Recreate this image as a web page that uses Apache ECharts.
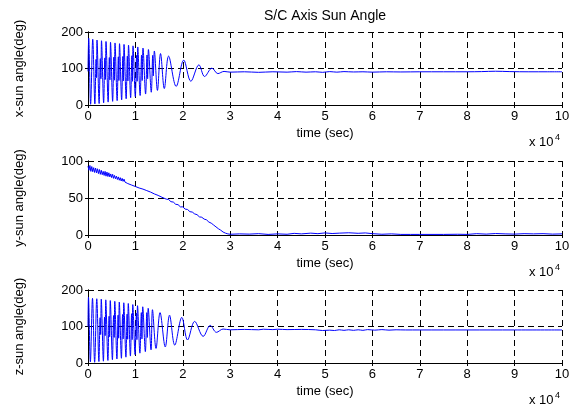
<!DOCTYPE html>
<html>
<head>
<meta charset="utf-8">
<title>S/C Axis Sun Angle</title>
<script src="https://cdn.jsdelivr.net/npm/echarts@6/dist/echarts.min.js"></script>
<style>
html, body { margin: 0; padding: 0; background: #fff; }
#main { width: 576px; height: 405px; }
</style>
</head>
<body>
<div id="main"></div>
<script type="text/javascript">
// time in units of 10^4 sec, angles in deg
var t1 = [0.000, 0.015, 0.055, 0.100, 0.145, 0.170, 0.180, 0.190, 0.235, 0.260, 0.272, 0.285,
          0.330, 0.355, 0.367, 0.380, 0.425, 0.450, 0.462, 0.475, 0.520, 0.545, 0.557, 0.570,
          0.615, 0.640, 0.652, 0.665, 0.710, 0.735, 0.747, 0.760, 0.805, 0.830, 0.842, 0.855,
          0.900, 0.925, 0.937, 0.950, 0.998, 1.025, 1.037, 1.050, 1.100, 1.130, 1.143, 1.160,
          1.215, 1.245, 1.258, 1.275, 1.335, 1.365, 1.378, 1.400, 1.465, 1.530, 1.610, 1.700,
          1.860, 2.020, 2.170, 2.340, 2.460, 2.615, 2.740, 2.870, 3.000, 3.300, 3.600, 3.900,
          4.200, 4.400, 4.600, 4.800, 4.950, 5.100, 5.250, 5.400, 5.600, 5.800, 6.000, 6.300,
          6.600, 7.000, 7.500, 8.000, 8.300, 8.600, 8.900, 9.300, 9.700, 10.00];
var v1 = [92, 183, 2, 180, 3, 125, 75, 178, 4, 127, 72, 176,
          6, 129, 70, 174, 8, 130, 69, 172, 10, 131, 68, 170,
          12, 132, 67, 168, 14, 133, 66, 166, 17, 134, 66, 164,
          20, 135, 65, 162, 23, 136, 65, 159, 26, 137, 67, 156,
          30, 137, 72, 152, 35, 136, 80, 148, 40, 141, 45, 134,
          51, 123, 65, 110, 78, 101, 86, 92, 90, 91, 89.5, 91,
          90, 91.5, 90, 91, 89.5, 91.5, 90, 91.5, 90.5, 91, 90, 91,
          90.5, 91, 91, 91, 91.5, 92.5, 91.5, 91, 91, 91];

var t2 = [0.00, 0.02, 0.04, 0.06, 0.08, 0.10, 0.12, 0.14, 0.16, 0.18, 0.20, 0.22, 0.24, 0.26,
          0.28, 0.30, 0.32, 0.34, 0.36, 0.38, 0.40, 0.42, 0.44, 0.46, 0.48, 0.50, 0.52, 0.54,
          0.56, 0.58, 0.60, 0.62, 0.64, 0.66, 0.68, 0.70, 0.72, 0.74, 0.76, 0.78, 0.80,
          0.84, 0.88, 0.92, 0.96, 1.00, 1.04, 1.08, 1.12, 1.16, 1.20, 1.24, 1.28, 1.32, 1.36,
          1.40, 1.44, 1.48, 1.52, 1.56, 1.60,
          1.65, 1.70, 1.75, 1.80, 1.85, 1.90, 1.95, 2.00, 2.05, 2.10, 2.15, 2.20, 2.25, 2.30,
          2.35, 2.40, 2.45, 2.50, 2.55, 2.60, 2.65, 2.70, 2.75, 2.80, 2.85, 2.90, 2.95, 3.00,
          3.2, 3.4, 3.6, 3.8, 4.0, 4.2, 4.35, 4.5, 4.7, 4.85, 5.0, 5.15, 5.3, 5.5, 5.7, 5.85,
          6.0, 6.2, 6.4, 6.6, 6.8, 7.0, 7.5, 7.8, 8.0, 8.2, 8.4, 8.6, 8.8, 9.0, 9.2, 9.4, 9.6,
          9.8, 10.0];
var v2 = [93, 87.5, 94, 86, 92.5, 85.5, 91, 84.5, 90.5, 84, 89.5, 83, 88.5, 82,
          87.5, 81.5, 86, 80.5, 86, 79.5, 85, 79, 84, 78.5, 82.5, 77.5, 82, 76.5,
          80.5, 76, 79.5, 75, 78.5, 74, 77.5, 73, 76.5, 72.5, 75.5, 71.5, 74,
          69.5, 71, 67.5, 69, 65.5, 67, 63.5, 65, 62, 63, 60, 61, 58, 59,
          55.5, 56.5, 53.5, 54, 51, 52,
          48.5, 48, 45, 44.5, 41.5, 41, 38, 38, 35, 34.5, 31.5, 31, 28.5, 27.5,
          24.5, 24, 21.5, 20.5, 17.5, 16, 13.5, 11, 8.5, 6.5, 4, 2.5, 1.5, 1,
          1.5, 1.2, 1.8, 0.8, 1.5, 1, 2.2, 1.5, 2.5, 1.8, 2.8, 2, 2.5, 3, 2.3, 2.8,
          1.8, 1, 1.5, 0.8, 0.8, 0.8, 0.8, 1, 0.8, 1.8, 1.2, 2, 1.5, 1.2, 1.8, 1.5, 1.8,
          1.2, 1.5];

var t3 = [0.000, 0.010, 0.050, 0.095, 0.140, 0.185, 0.230, 0.255, 0.267, 0.280,
          0.325, 0.350, 0.362, 0.375, 0.420, 0.445, 0.457, 0.470, 0.515, 0.540, 0.552, 0.565,
          0.610, 0.635, 0.647, 0.660, 0.705, 0.730, 0.742, 0.755, 0.800, 0.825, 0.837, 0.850,
          0.895, 0.920, 0.932, 0.945, 0.993, 1.020, 1.032, 1.045, 1.095, 1.125, 1.138, 1.155,
          1.210, 1.240, 1.253, 1.270, 1.330, 1.360, 1.435, 1.520, 1.630, 1.720, 1.830, 1.980,
          2.100, 2.250, 2.430, 2.580, 2.710, 2.850, 3.000, 3.300, 3.600, 3.700, 3.900, 4.000,
          4.200, 4.500, 4.800, 4.950, 5.100, 5.200, 5.300, 5.400, 5.500, 5.600, 5.700, 5.800,
          5.900, 6.050, 6.200, 6.350, 6.500, 6.700, 7.000, 8.000, 9.000, 10.00];
var v3 = [100, 180, 3, 177, 2, 176, 4, 124, 78, 175,
          5, 126, 75, 173, 7, 128, 72, 171, 9, 130, 70, 169,
          11, 131, 68, 167, 13, 133, 66, 165, 16, 134, 65, 163,
          19, 135, 64, 160, 23, 137, 64, 157, 27, 138, 66, 154,
          31, 138, 70, 150, 36, 146, 40, 138, 44, 131, 49, 125,
          63, 114, 73, 103, 84, 93, 91, 92, 91, 92.5, 91.5, 92.5,
          91.5, 92, 91, 89, 90, 89, 91, 89.5, 91, 89.5, 91, 89.5,
          91.5, 90, 91.5, 90, 91, 90.5, 90.5, 90.5, 90.5, 90.5];

var yNames = ['x-sun angle(deg)', 'y-sun angle(deg)', 'z-sun angle(deg)'];
var yMax = [200, 100, 200];
var yStep = [100, 50, 100];
var xMax = 10;
var chartTitle = 'S/C Axis Sun Angle';

var font = '"Liberation Sans", Arial, sans-serif';
var gridTop = [32, 161, 290];
var gridHeight = [73, 74, 73];
var smoothing = [0.35, false, 0.35];

function pairs(t, v) {
    var out = [];
    for (var i = 0; i < t.length; i++) out.push([t[i], v[i]]);
    return out;
}
var seriesData = [pairs(t1, v1), pairs(t2, v2), pairs(t3, v3)];

var myChart = echarts.init(document.getElementById('main'), null, {renderer: 'canvas'});

var grids = [], xAxes = [], yAxes = [], series = [], graphics = [];
var dash = {color: '#000', width: 1, type: [6, 4]};
var black = {color: '#000', width: 1};

for (var i = 0; i < 3; i++) {
    grids.push({left: 88, width: 474, top: gridTop[i], height: gridHeight[i]});

    xAxes.push({
        gridIndex: i, type: 'value', position: 'bottom', min: 0, max: xMax, interval: 1,
        axisLine: {show: true, lineStyle: black},
        axisTick: {show: true, inside: true, length: 3, lineStyle: black},
        axisLabel: {margin: 5, color: '#000', fontSize: 13, fontFamily: font},
        splitLine: {show: true, lineStyle: dash},
        name: 'time (sec)', nameLocation: 'middle', nameGap: 22,
        nameTextStyle: {color: '#000', fontSize: 13, fontFamily: font}
    });
    xAxes.push({
        gridIndex: i, type: 'value', position: 'top', min: 0, max: xMax, interval: 1,
        axisLine: {show: true, lineStyle: black},
        axisTick: {show: true, inside: true, length: 3, lineStyle: black},
        axisLabel: {show: false}, splitLine: {show: false}
    });

    yAxes.push({
        gridIndex: i, type: 'value', position: 'left', min: 0, max: yMax[i], interval: yStep[i],
        axisLine: {show: true, lineStyle: black},
        axisTick: {show: true, inside: true, length: 3, lineStyle: black},
        axisLabel: {margin: 5, color: '#000', fontSize: 13, fontFamily: font},
        splitLine: {show: true, lineStyle: dash},
        name: yNames[i], nameLocation: 'middle', nameGap: 62,
        nameTextStyle: {color: '#000', fontSize: 13, fontFamily: font}
    });
    yAxes.push({
        gridIndex: i, type: 'value', position: 'right', min: 0, max: yMax[i], interval: yStep[i],
        axisLine: {show: true, lineStyle: black},
        axisTick: {show: true, inside: true, length: 3, lineStyle: black},
        axisLabel: {show: false}, splitLine: {show: false}
    });

    series.push({
        type: 'line', xAxisIndex: 2 * i, yAxisIndex: 2 * i,
        data: seriesData[i], showSymbol: false, symbol: 'none', smooth: smoothing[i],
        lineStyle: {color: '#0000ff', width: 1}, silent: true
    });

    // "x 10^4" exponent label under each axis
    var b = gridTop[i] + gridHeight[i];
    graphics.push({type: 'text', x: 529, y: b + 37, style: {text: 'x 10', fill: '#000',
        font: '13px ' + font, textVerticalAlign: 'middle'}});
    graphics.push({type: 'text', x: 555, y: b + 33, style: {text: '4', fill: '#000',
        font: '9px ' + font, textVerticalAlign: 'middle'}});
}

graphics.push({type: 'text', x: 325, y: 16, style: {text: chartTitle, fill: '#000',
    font: '14px ' + font, textAlign: 'center', textVerticalAlign: 'middle'}});

var option = {
    animation: false,
    backgroundColor: '#fff',
    grid: grids,
    xAxis: xAxes,
    yAxis: yAxes,
    series: series,
    graphic: graphics
};
myChart.setOption(option);
</script>
</body>
</html>
